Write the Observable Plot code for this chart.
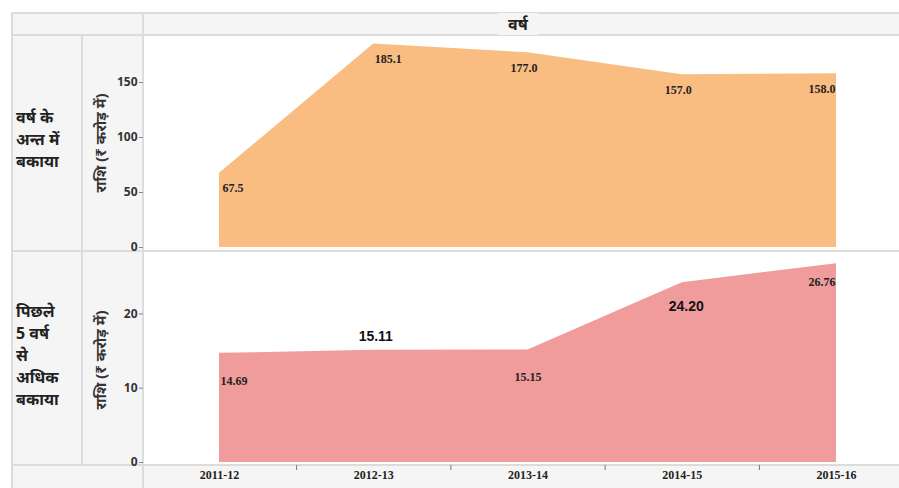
<!DOCTYPE html>
<html>
<head>
<meta charset="utf-8">
<script src="https://cdn.jsdelivr.net/npm/d3@7"></script>
<script src="https://cdn.jsdelivr.net/npm/@observablehq/plot@0.6"></script>
<style>
  body { margin: 0; background: #fff; }
  #wrap { position: relative; width: 899px; height: 488px; overflow: hidden; background: #fff; font-family: "Noto Sans", "DejaVu Sans", sans-serif; }
  .bg { position: absolute; background: #f5f5f5; }
  .hl { position: absolute; height: 2px; background: #dcdcdc; }
  .vl { position: absolute; width: 2px; background: #dcdcdc; }
  .rowlab { position: absolute; left: 16px; width: 66px; font-size: 16px; font-weight: bold; line-height: 22px; color: #222; }
  .head { position: absolute; top: 13px; height: 22px; line-height: 22px; font-size: 16px; font-weight: bold; color: #222; }
  .plot g[aria-label="y-axis label"] text { font-size: 15px; font-weight: bold; fill: #333; }
  .plot g[aria-label="y-axis tick label"] text { font-weight: bold; fill: #333; }
</style>
</head>
<body>
<div id="wrap"></div>
<script>
// ---- data ----
const years = ["2011-12", "2012-13", "2013-14", "2014-15", "2015-16"];
const outstandingYearEnd = [67.5, 185.1, 177.0, 157.0, 158.0];
const outstandingOver5Years = [14.69, 15.11, 15.15, 24.20, 26.76];
const topTicks = [0, 50, 100, 150];
const bottomTicks = [0, 10, 20];
const headerLabel = "वर्ष";
const rowLabelTop = ["वर्ष के", "अन्त में", "बकाया"];
const rowLabelBottom = ["पिछले", "5 वर्ष", "से", "अधिक", "बकाया"];
const axisTitle = "राशि (₹ करोड़ में)";

const wrap = document.getElementById("wrap");
function box(cls, css, html) {
  const d = document.createElement("div");
  d.className = cls;
  Object.assign(d.style, css);
  if (html) d.innerHTML = html;
  wrap.appendChild(d);
  return d;
}

// table backgrounds
box("bg", {left: "12px", top: "13px", width: "887px", height: "22px"});
box("bg", {left: "12px", top: "35px", width: "131px", height: "430px"});
box("bg", {left: "12px", top: "465px", width: "887px", height: "23px"});

// grid lines
box("hl", {left: "12px", top: "12px", width: "887px"});
box("hl", {left: "12px", top: "34px", width: "887px"});
box("hl", {left: "12px", top: "250px", width: "887px"});
box("hl", {left: "12px", top: "464px", width: "887px"});
box("vl", {left: "11px", top: "12px", height: "476px"});
box("vl", {left: "81px", top: "34px", height: "431px"});
box("vl", {left: "142px", top: "12px", height: "476px"});

// header & row labels
box("head", {left: "498px", padding: "0 10px", background: "#f5f5f5"}, headerLabel);
box("rowlab", {top: "106px"}, rowLabelTop.join("<br>"));
box("rowlab", {top: "300px"}, rowLabelBottom.join("<br>"));

const topData = years.map((y, i) => ({i, year: y, v: outstandingYearEnd[i]}));
const botData = years.map((y, i) => ({i, year: y, v: outstandingOver5Years[i]}));

const serif = {fontFamily: "Liberation Serif, serif", fontWeight: "bold", fontSize: 12, fill: "#222"};
const sans = {fontFamily: "Liberation Sans, Arial, sans-serif", fontWeight: "bold", fontSize: 14, fill: "#111"};
const pick = (k) => (d) => d.i === k;

// ---- top panel ----
const topPlot = Plot.plot({
  width: 817,
  height: 215,
  marginLeft: 61,
  marginRight: 0,
  marginTop: 3,
  marginBottom: 3,
  style: {background: "transparent", overflow: "visible", fontFamily: "Noto Sans, DejaVu Sans, sans-serif"},
  x: {domain: [0, 4], range: [137, 754], axis: null},
  y: {domain: [0, 190], range: [212, 3]},
  marks: [
    Plot.areaY(topData, {x: "i", y: "v", fill: "#f9bd82"}),
    Plot.axisY(topTicks, {tickSize: 4, tickPadding: 2, fontSize: 12, stroke: "#888",
      label: axisTitle, labelAnchor: "center", labelOffset: 48, labelArrow: "none"}),
    Plot.text(topData, {filter: pick(0), x: "i", y: "v", text: d => d.v.toFixed(1), dy: 15, dx: 3, textAnchor: "start", ...serif}),
    Plot.text(topData, {filter: pick(1), x: "i", y: "v", text: d => d.v.toFixed(1), dy: 15, dx: 1, textAnchor: "start", ...serif}),
    Plot.text(topData, {filter: d => d.i === 2 || d.i === 3, x: "i", y: "v", text: d => d.v.toFixed(1), dy: 15, dx: -4, textAnchor: "middle", ...serif}),
    Plot.text(topData, {filter: pick(4), x: "i", y: "v", text: d => d.v.toFixed(1), dy: 15, dx: -1, textAnchor: "end", ...serif})
  ]
});
topPlot.classList.add("plot");
topPlot.style.position = "absolute";
topPlot.style.top = "35px";
topPlot.style.left = "82px";
wrap.appendChild(topPlot);

// ---- bottom panel ----
const botPlot = Plot.plot({
  width: 817,
  height: 237,
  marginLeft: 61,
  marginRight: 0,
  marginTop: 3,
  marginBottom: 23,
  style: {background: "transparent", overflow: "visible", fontFamily: "Noto Sans, DejaVu Sans, sans-serif"},
  x: {domain: [0, 4], range: [137, 754]},
  y: {domain: [0, 28], range: [211, 3]},
  marks: [
    Plot.areaY(botData, {x: "i", y: "v", fill: "#f09b9c"}),
    Plot.axisY(bottomTicks, {tickSize: 4, tickPadding: 2, fontSize: 12, stroke: "#888",
      label: axisTitle, labelAnchor: "center", labelOffset: 48, labelArrow: "none"}),
    Plot.axisX([0, 1, 2, 3, 4], {tickSize: 0, tickPadding: 5, tickFormat: i => years[i],
      fontFamily: "Liberation Serif, serif", fontWeight: "bold", fontSize: 12, fill: "#222", label: null}),
    Plot.axisX([0.5, 1.5, 2.5, 3.5], {tickSize: 5, stroke: "#777", tickFormat: () => "", label: null}),
    Plot.text(botData, {filter: pick(0), x: "i", y: "v", text: d => d.v.toFixed(2), dy: 28, dx: 1, textAnchor: "start", ...serif}),
    Plot.text(botData, {filter: pick(1), x: "i", y: "v", text: d => d.v.toFixed(2), dy: -14, dx: 2, textAnchor: "middle", ...sans}),
    Plot.text(botData, {filter: pick(2), x: "i", y: "v", text: d => d.v.toFixed(2), dy: 27, dx: 0, textAnchor: "middle", ...serif}),
    Plot.text(botData, {filter: pick(3), x: "i", y: "v", text: d => d.v.toFixed(2), dy: 24, dx: 4, textAnchor: "middle", ...sans}),
    Plot.text(botData, {filter: pick(4), x: "i", y: "v", text: d => d.v.toFixed(2), dy: 18, dx: -1, textAnchor: "end", ...serif})
  ]
});
botPlot.classList.add("plot");
botPlot.style.position = "absolute";
botPlot.style.top = "251px";
botPlot.style.left = "82px";
wrap.appendChild(botPlot);
</script>
</body>
</html>
